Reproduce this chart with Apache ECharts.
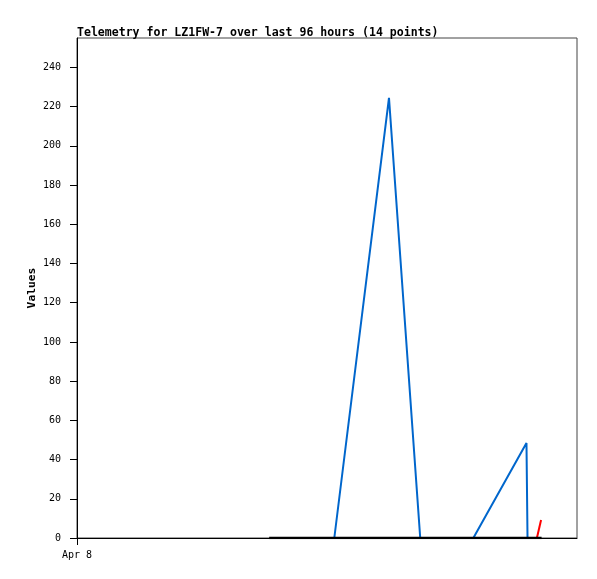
<!DOCTYPE html>
<html><head><meta charset="utf-8">
<script src="https://cdn.jsdelivr.net/npm/echarts@6/dist/echarts.min.js"></script>
<style>html,body{margin:0;padding:0;background:#fff}#c{width:597px;height:579px}</style>
</head><body><div id="c"></div>
<script>
// hours since Apr 8 00:00 (axis spans 96 hours)
const blueHours = [49.4, 59.9, 65.9, 76.1, 86.3, 86.5];
const blueValues = [0, 224.5, 0, 0, 48.4, 0];
const redHours = [88.3, 89.1];
const redValues = [0, 9.2];
const blackHours = [36.9, 49.4, 65.9, 76.1, 86.5, 89.2];
const blackValues = [0, 0, 0, 0, 0, 0];
const yTicks = [0, 20, 40, 60, 80, 100, 120, 140, 160, 180, 200, 220, 240];
const xTickHours = [0];
const xTickLabels = ['Apr 8'];
const titleText = 'Telemetry for LZ1FW-7 over last 96 hours (14 points)';

const zip = (a, b) => a.map((v, i) => [v, b[i]]);
const font = 'DejaVu Sans Mono';
const chart = echarts.init(document.getElementById('c'), null, {renderer: 'canvas'});
chart.setOption({
  animation: false,
  title: {text: titleText, left: 72, top: 22,
    textStyle: {fontFamily: font, fontSize: 11.55, fontWeight: 'bold', color: '#000'}},
  grid: {left: 77, top: 38, right: 20, bottom: 41, show: true, borderColor: '#444', borderWidth: 1, backgroundColor: '#fff'},
  xAxis: {type: 'value', min: 0, max: 96, splitLine: {show: false},
    axisLine: {lineStyle: {color: '#000', width: 1}},
    axisTick: {customValues: xTickHours, length: 7, lineStyle: {color: '#000'}},
    axisLabel: {customValues: xTickHours, formatter: v => xTickLabels[xTickHours.indexOf(v)] || '',
      fontFamily: font, fontSize: 10, color: '#000', margin: 12}},
  yAxis: {type: 'value', min: 0, max: 255, name: 'Values', nameLocation: 'middle', nameGap: 39,
    nameMoveOverlap: false,
    nameTextStyle: {fontFamily: font, fontSize: 11.3, fontWeight: 'bold', color: '#000'},
    splitLine: {show: false},
    axisLine: {show: true, lineStyle: {color: '#000', width: 1}},
    axisTick: {customValues: yTicks, length: 7, lineStyle: {color: '#000'}},
    axisLabel: {customValues: yTicks, fontFamily: font, fontSize: 10, color: '#000', margin: 16}},
  series: [
    {type: 'line', data: zip(blueHours, blueValues), showSymbol: false, lineStyle: {color: '#0066cc', width: 2}, z: 2},
    {type: 'line', data: zip(redHours, redValues), showSymbol: false, lineStyle: {color: '#ff0000', width: 2}, z: 3},
    {type: 'line', data: zip(blackHours, blackValues), showSymbol: false, lineStyle: {color: '#000', width: 2.5}, z: 4}
  ]
});
</script></body></html>
